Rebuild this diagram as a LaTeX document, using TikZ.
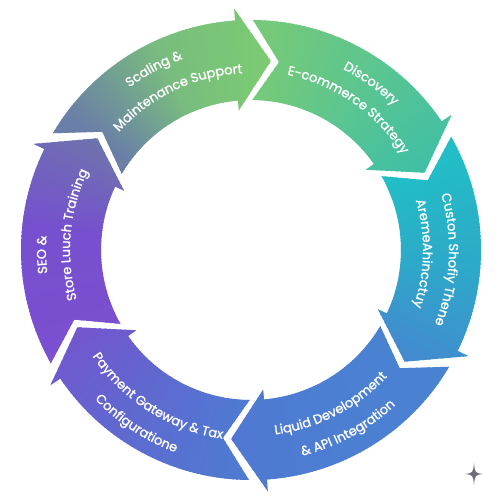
\documentclass[tikz,border=0pt]{standalone}
\usepackage{fontspec}
\setmainfont{Poppins}
\newfontfamily\labelfont{Poppins}[FakeBold=1.2]
\usetikzlibrary{decorations.text}
% Scaling
\definecolor{scA}{HTML}{6A7EA8}\definecolor{scB}{HTML}{79BD7E}\definecolor{scC}{HTML}{7BCB72}
% Discovery
\definecolor{diA}{HTML}{74C97A}\definecolor{diB}{HTML}{5AC591}\definecolor{diC}{HTML}{3FBFA6}
% Custom
\definecolor{cuA}{HTML}{22BDC6}\definecolor{cuB}{HTML}{2EA8C9}\definecolor{cuC}{HTML}{4488D0}
% Liquid
\definecolor{liA}{HTML}{4A82D2}\definecolor{liB}{HTML}{4C7ED2}\definecolor{liC}{HTML}{5078D2}
% Payment
\definecolor{paA}{HTML}{5079D1}\definecolor{paB}{HTML}{5F69D0}\definecolor{paC}{HTML}{7456CF}
% SEO
\definecolor{seA}{HTML}{7A4FD0}\definecolor{seB}{HTML}{7650CF}\definecolor{seC}{HTML}{6E74AD}
\definecolor{starc}{HTML}{6E6E78}
% arrow segment outline: #1 tail boundary angle, #2 head boundary angle
\newcommand\segclip[2]{\clip ({#1+5.5}:230) arc[start angle={#1+5.5}, end angle={#2+10}, radius=230]
  -- ({#2+10}:242) -- (#2:190) -- ({#2+11}:140) -- ({#2+11}:150)
  arc[start angle={#2+11}, end angle={#1+5.5}, radius=150] -- ({#1-2.5}:190) -- cycle;}
% angular gradient fill: #1 tail, #2 head, #3 #4 #5 colours
\newcommand\segfill[5]{%
 \foreach \k in {0,...,80}{%
  \pgfmathsetmacro\a{#1+13-\k}%
  \pgfmathsetmacro\u{max(0,min(1,(#1-\a)/60))}%
  \ifdim\u pt<0.5pt
    \pgfmathsetmacro\w{100*(1-2*\u)}%
    \colorlet{segc}{#3!\w!#4}%
  \else
    \pgfmathsetmacro\w{100*(2-2*\u)}%
    \colorlet{segc}{#4!\w!#5}%
  \fi
  \fill[segc] (0,0) -- ({\a+0.7}:260) -- ({\a-0.7}:260) -- cycle;
 }}
\newcommand\segment[5]{\begin{scope}\segclip{#1}{#2}\segfill{#1}{#2}{#3}{#4}{#5}\end{scope}}
\newcommand\txtfmt{\labelfont\fontsize{13}{15}\selectfont\color{white}}
% clockwise text (tops outward): #1 centre angle, #2 radius, #3 text
\newcommand\cwtext[3]{\path[decorate,decoration={text along path,text align=center,text={|\txtfmt|#3}}]
  ({#1+50}:#2) arc[start angle={#1+50}, end angle={#1-50}, radius=#2];}
% counter-clockwise text (tops inward)
\newcommand\ccwtext[3]{\path[decorate,decoration={text along path,text align=center,text={|\txtfmt|#3}}]
  ({#1-50}:#2) arc[start angle={#1-50}, end angle={#1+50}, radius=#2];}
\begin{document}
\begin{tikzpicture}[x=1pt,y=1pt]
\useasboundingbox (-251,-250) rectangle (249,250);
\fill[white] (-251,-250) rectangle (249,250);
\segment{144}{84}{scA}{scB}{scC}
\segment{84}{24}{diA}{diB}{diC}
\segment{24}{-36}{cuA}{cuB}{cuC}
\segment{-36}{-96}{liA}{liB}{liC}
\segment{-96}{-156}{paA}{paB}{paC}
\segment{204}{144}{seA}{seB}{seC}
% texts
\cwtext{118.2}{203}{Scaling {\&}}
\cwtext{115.5}{177}{Maintenance Support}
\cwtext{54.2}{203}{Discovery}
\cwtext{55.3}{179}{E-commerce Strategy}
\cwtext{-2.8}{198}{Custon Shofiy Thene}
\cwtext{-1.2}{172}{AremeAhincctuy}
\ccwtext{-62.7}{186}{Liquid Development}
\ccwtext{-61.5}{212}{{\&} API Integration}
\ccwtext{-122.4}{191}{Payment Gateway {\&} Tax}
\ccwtext{-123.4}{216}{Configuratione}
\cwtext{181.3}{205}{SEO {\&}}
\cwtext{175}{181}{Store Luuch Training}
% sparkle mark
\fill[starc] (223,-213) .. controls (224,-223) .. (232,-224) .. controls (224,-225) .. (223,-235)
  .. controls (222,-225) .. (214,-224) .. controls (222,-223) .. cycle;
\end{tikzpicture}
\end{document}
